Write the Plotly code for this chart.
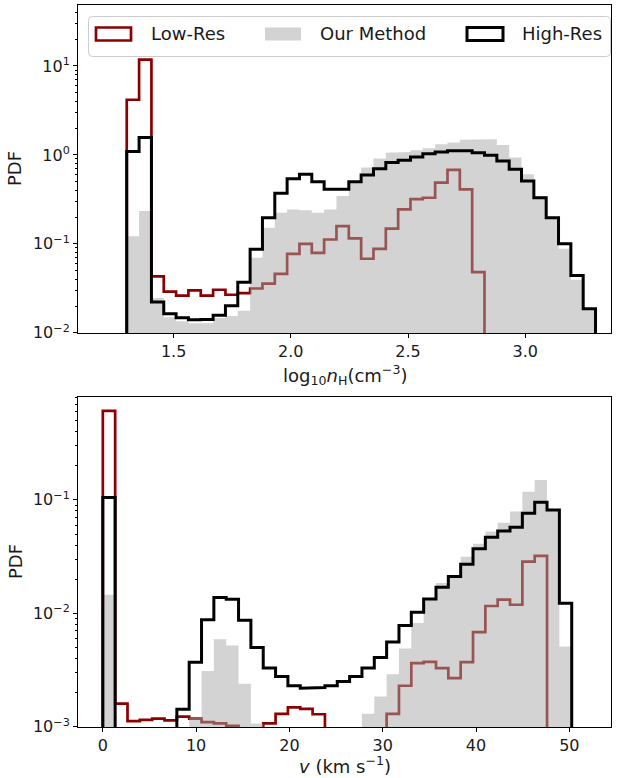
import numpy as np
import plotly.graph_objects as go

W, H = 619, 778

# ---------------- data (bin-wise PDF values) ----------------
nh_range = (1.3, 3.3)          # log10 nH bin range
nh_nbins = 38
nh_low = [4.17, 11.8, 0.0432, 0.029, 0.0262, 0.030, 0.0262, 0.0305, 0.0268, 0.028,
          0.0315, 0.0358, 0.046, 0.077, 0.100, 0.079, 0.112, 0.158, 0.115, 0.068,
          0.088, 0.148, 0.244, 0.318, 0.330, 0.488, 0.678, 0.410, 0.048, 0,
          0, 0, 0, 0, 0, 0, 0, 0]
nh_ours = [0.122, 0.234, 0.0246, 0.0150, 0.0135, 0.0128, 0.0128, 0.0147, 0.0155, 0.0177,
           0.070, 0.152, 0.224, 0.244, 0.238, 0.224, 0.244, 0.345, 0.509, 0.72,
           0.91, 1.06, 1.08, 1.13, 1.19, 1.32, 1.38, 1.48, 1.50, 1.50,
           1.29, 0.935, 0.606, 0.345, 0.191, 0.088, 0.0396, 0.018]
nh_high = [1.09, 1.57, 0.0222, 0.0164, 0.0148, 0.0140, 0.0141, 0.0158, 0.0202, 0.037,
           0.087, 0.197, 0.370, 0.540, 0.605, 0.500, 0.410, 0.410, 0.500, 0.595,
           0.700, 0.820, 0.870, 0.950, 1.030, 1.080, 1.110, 1.110, 1.060, 0.990,
           0.856, 0.690, 0.510, 0.330, 0.197, 0.100, 0.044, 0.0187]

v_range = (0.0, 50.26)         # velocity bin range (km/s)
v_nbins = 38
v_low = [0.608, 0.0016, 0.00112, 0.00115, 0.00118, 0.00114, 0.00123, 0.00118, 0.0011, 0.00107,
         0.00102, 0, 0, 0.00107, 0.0013, 0.00148, 0.00144, 0.00129, 0, 0,
         0, 0, 0, 0.0013, 0.0023, 0.00364, 0.00374, 0.00329, 0.00268, 0.00372,
         0.00682, 0.0116, 0.0132, 0.0119, 0.0286, 0.0321, 0, 0]
v_ours = [0.0146, 0, 0, 0, 0, 0, 0, 0.0012, 0.0031, 0.0059,
          0.0052, 0.0024, 0.00107, 0, 0, 0, 0, 0, 0, 0,
          0, 0.0013, 0.00185, 0.0029, 0.0049, 0.0082, 0.0133, 0.0185, 0.0218, 0.0316,
          0.041, 0.0526, 0.063, 0.079, 0.118, 0.150, 0.080, 0.0051]
v_high = [0.105, 0, 0, 0, 0, 0, 0.00143, 0.0037, 0.0088, 0.0138,
          0.0133, 0.0087, 0.0050, 0.00329, 0.00277, 0.0023, 0.00219, 0.00222, 0.0023, 0.00251,
          0.00277, 0.00329, 0.00408, 0.0056, 0.0078, 0.0102, 0.0134, 0.0170, 0.0211, 0.0271,
          0.037, 0.0469, 0.0533, 0.0574, 0.0763, 0.0955, 0.0816, 0.0123]

legend_names = ["Low-Res", "Our Method", "High-Res"]
nh_ticks = [1.5, 2.0, 2.5, 3.0]
v_ticks = [0, 10, 20, 30, 40, 50]

# ---------------- styles ----------------
RED = "#8b0000"
GRAY_FILL = "rgba(168,168,168,0.5)"
BLACK = "#000000"
FONT = "DejaVu Sans"
TXT = "#1a1a1a"
FLOOR = 1e-7


def step_xy(edges, vals):
    v = np.asarray(vals, dtype=float)
    v = np.where(v > 0, v, FLOOR)
    x = np.repeat(edges, 2)
    y = np.concatenate([[FLOOR], np.repeat(v, 2), [FLOOR]])
    return x, y


def px2x(p):
    return p / W


def px2y(p):
    return 1 - p / H


fig = go.Figure()

panels = [
    (np.linspace(*nh_range, nh_nbins + 1), nh_low, nh_ours, nh_high, "x", "y"),
    (np.linspace(*v_range, v_nbins + 1), v_low, v_ours, v_high, "x2", "y2"),
]
for edges, lo, ours, hi, xa, ya in panels:
    x, y = step_xy(edges, lo)
    fig.add_trace(go.Scatter(x=x, y=y, mode="lines", line=dict(color=RED, width=2.7),
                             xaxis=xa, yaxis=ya, showlegend=False, hoverinfo="skip"))
    x, y = step_xy(edges, ours)
    fig.add_trace(go.Scatter(x=x, y=y, mode="lines", fill="toself", fillcolor=GRAY_FILL,
                             line=dict(width=0, color="rgba(0,0,0,0)"),
                             xaxis=xa, yaxis=ya, showlegend=False, hoverinfo="skip"))
    x, y = step_xy(edges, hi)
    fig.add_trace(go.Scatter(x=x, y=y, mode="lines", line=dict(color=BLACK, width=3),
                             xaxis=xa, yaxis=ya, showlegend=False, hoverinfo="skip"))


def minor_vals(lo_exp, hi_exp):
    out = []
    for e in range(lo_exp, hi_exp + 1):
        for k in range(2, 10):
            out.append(k * 10.0 ** e)
    return out


def sup(e):
    s = str(e).replace("-", "\u2212")
    return f"10<sup>{s}</sup>"


tickfont = dict(family=FONT, size=16, color=TXT)
xdom = [px2x(78), px2x(611)]
common_x = dict(showline=True, linecolor="black", linewidth=1, mirror=True,
                ticks="outside", ticklen=4, tickwidth=1, tickcolor="black",
                showgrid=False, zeroline=False, tickfont=tickfont, domain=xdom,
                automargin=False)
common_y = dict(type="log", showline=True, linecolor="black", linewidth=1, mirror=True,
                ticks="outside", ticklen=4, tickwidth=1, tickcolor="black",
                showgrid=False, zeroline=False, tickfont=tickfont, automargin=False)

fig.update_layout(
    width=W, height=H,
    margin=dict(l=0, r=0, t=0, b=0, autoexpand=False),
    paper_bgcolor="white", plot_bgcolor="white",
    showlegend=False,
    xaxis=dict(common_x, range=[1.092, 3.366], tickvals=nh_ticks,
               ticktext=[f"{t:.1f}" for t in nh_ticks], anchor="y"),
    yaxis=dict(common_y, range=[-2.002, 1.685], domain=[px2y(333), px2y(5)],
               tickvals=[1e-2, 1e-1, 1e0, 1e1], ticktext=[sup(e) for e in (-2, -1, 0, 1)],
               minor=dict(tickmode="array", tickvals=minor_vals(-2, 1), ticks="outside",
                          ticklen=2, tickcolor="black", showgrid=False),
               anchor="x"),
    xaxis2=dict(common_x, range=[-2.66, 54.47], tickvals=v_ticks,
                ticktext=[str(t) for t in v_ticks], anchor="y2"),
    yaxis2=dict(common_y, range=[-3.002, -0.093], domain=[px2y(727), px2y(397)],
                tickvals=[1e-3, 1e-2, 1e-1], ticktext=[sup(e) for e in (-3, -2, -1)],
                minor=dict(tickmode="array", tickvals=minor_vals(-3, -1), ticks="outside",
                           ticklen=2, tickcolor="black", showgrid=False),
                anchor="x2"),
)

# axis titles
lab = dict(family=FONT, size=18, color=TXT)
ann = [
    dict(x=px2x(15), y=px2y(169), text="PDF", textangle=-90),
    dict(x=px2x(15), y=px2y(562), text="PDF", textangle=-90),
    dict(x=px2x(344.5), y=px2y(375),
         text="log<sub>10</sub><i>n</i><sub>H</sub>(cm<sup>\u22123</sup>)"),
    dict(x=px2x(344.5), y=px2y(764.5), text="<i>v</i> (km s<sup>\u22121</sup>)"),
]
for a in ann:
    fig.add_annotation(xref="paper", yref="paper", showarrow=False, font=lab,
                       xanchor="center", yanchor="middle", **a)

# legend (drawn manually to match outlined patches)
lx0, lx1, ly0, ly1, r = 88.5, 610.5, 16.5, 56.5, 4
path = (f"M {px2x(lx0 + r)},{px2y(ly0)} L {px2x(lx1 - r)},{px2y(ly0)} "
        f"Q {px2x(lx1)},{px2y(ly0)} {px2x(lx1)},{px2y(ly0 + r)} "
        f"L {px2x(lx1)},{px2y(ly1 - r)} Q {px2x(lx1)},{px2y(ly1)} {px2x(lx1 - r)},{px2y(ly1)} "
        f"L {px2x(lx0 + r)},{px2y(ly1)} Q {px2x(lx0)},{px2y(ly1)} {px2x(lx0)},{px2y(ly1 - r)} "
        f"L {px2x(lx0)},{px2y(ly0 + r)} Q {px2x(lx0)},{px2y(ly0)} {px2x(lx0 + r)},{px2y(ly0)} Z")
fig.add_shape(type="path", xref="paper", yref="paper", path=path,
              fillcolor="rgba(255,255,255,0.85)", line=dict(color="#cccccc", width=1))

handles = [
    (96, 131, dict(color=RED, width=2.7), "white", 149),
    (265, 301, dict(width=0), GRAY_FILL, 318),
    (467, 503, dict(color=BLACK, width=3), "white", 520),
]
for (hx0, hx1, line, fill, tx), name in zip(handles, legend_names):
    fig.add_shape(type="rect", xref="paper", yref="paper",
                  x0=px2x(hx0), x1=px2x(hx1), y0=px2y(27.5), y1=px2y(40.5),
                  line=line, fillcolor=fill)
    fig.add_annotation(xref="paper", yref="paper", x=px2x(tx), y=px2y(34),
                       text=name, showarrow=False, xanchor="left", yanchor="middle",
                       font=dict(family=FONT, size=18, color=TXT))

fig.write_html(
    "out.html",
    config={"displayModeBar": False},
    post_script="document.body.style.margin='0';document.body.style.overflow='hidden';",
)
